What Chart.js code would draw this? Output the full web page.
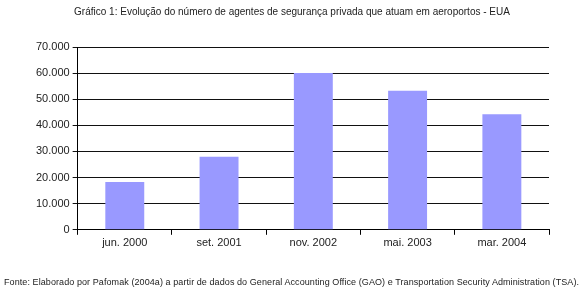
<!DOCTYPE html>
<html>
<head>
<meta charset="utf-8">
<script src="https://cdn.jsdelivr.net/npm/chart.js@4/dist/chart.umd.min.js"></script>
<style>
  html, body { margin: 0; padding: 0; background: #fff; }
  #wrap { width: 580px; height: 290px; position: relative; font-family: 'Liberation Sans', Arial, sans-serif; color: #222; }
  #titulo { position: absolute; left: 0; width: 584px; top: 6px; text-align: center; font-size: 10px; white-space: nowrap; }
  #fonte { position: absolute; left: 4px; top: 277px; font-size: 9px; letter-spacing: 0.08px; white-space: nowrap; }
  canvas { position: absolute; left: 0; top: 0; }
</style>
</head>
<body>
<div id="wrap">
  <canvas id="grafico" width="580" height="290"></canvas>
  <div id="titulo"></div>
  <div id="fonte"></div>
</div>
<script>
// Dados
const categorias = ['jun. 2000', 'set. 2001', 'nov. 2002', 'mai. 2003', 'mar. 2004'];
const agentes = [18300, 28000, 60000, 53200, 44200];
const eixoMin = 0;
const eixoMax = 70000;
const eixoPasso = 10000;

const titulo = 'Gráfico 1: Evolução do número de agentes de segurança privada que atuam em aeroportos - EUA';
const fonte = 'Fonte: Elaborado por Pafomak (2004a) a partir de dados do General Accounting Office (GAO) e Transportation Security Administration (TSA).';

document.getElementById('titulo').textContent = titulo;
document.getElementById('fonte').textContent = fonte;

const fontFamily = "'Liberation Sans', Arial, sans-serif";

// formata 70000 -> 70.000
function formatar(v) {
    return v.toLocaleString('pt-BR');
}

const ctx = document.getElementById('grafico').getContext('2d');

new Chart(ctx, {
    type: 'bar',
    data: {
        labels: categorias,
        datasets: [{
            data: agentes,
            backgroundColor: '#9999ff',
            borderWidth: 0,
            barPercentage: 0.413,
            categoryPercentage: 1
        }]
    },
    options: {
        responsive: false,
        animation: false,
        layout: {
            padding: { left: 33, right: 31, top: 47, bottom: 38 }
        },
        scales: {
            x: {
                grid: {
                    display: true,
                    drawOnChartArea: false,
                    offset: true,
                    color: '#000',
                    tickLength: 5
                },
                border: { color: '#000', width: 1 },
                ticks: {
                    color: '#222',
                    font: { family: fontFamily, size: 11 },
                    padding: 2
                }
            },
            y: {
                min: eixoMin,
                max: eixoMax,
                grid: {
                    color: '#111',
                    tickLength: 5
                },
                border: { color: '#000', width: 1 },
                ticks: {
                    stepSize: eixoPasso,
                    color: '#222',
                    font: { family: fontFamily, size: 11 },
                    padding: 3,
                    callback: function(v) { return formatar(v); }
                }
            }
        },
        plugins: {
            legend: { display: false },
            tooltip: { enabled: false },
            title: { display: false }
        }
    }
});
</script>
</body>
</html>
